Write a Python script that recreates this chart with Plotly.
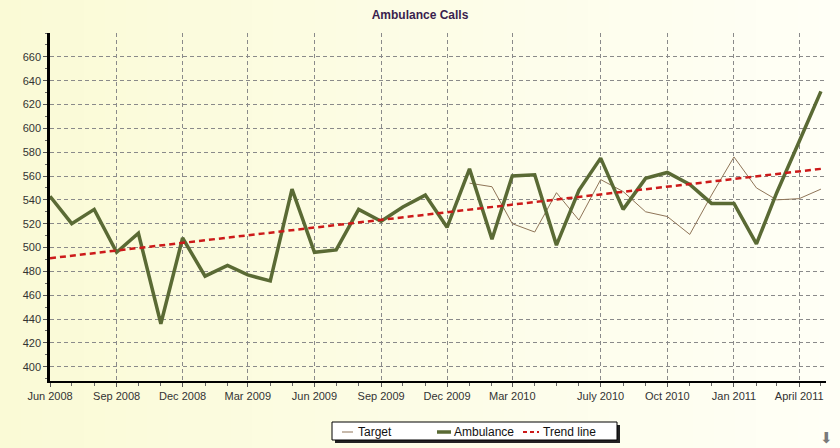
import plotly.graph_objects as go
import pandas as pd

# ---------------- data ----------------
months = [d.strftime("%Y-%m-%d") for d in pd.date_range("2008-06-01", "2011-05-01", freq="MS")]
ambulance = [543, 520, 532, 496, 512, 436, 508, 476, 485, 477, 472, 549,
             496, 498, 532, 522, 534, 544, 517, 566, 507, 560, 561, 502,
             548, 575, 532, 558, 563, 553, 537, 537, 503, 546, 589, 631]
target_months = months[19:]
target = [554, 551, 520, 513, 546, 523, 557, 547, 530, 526, 511, 544,
          576, 550, 540, 541, 549]
trend_months = [months[0], months[-1]]
trend = [491, 566]

tick_dates = ["2008-06-01", "2008-09-01", "2008-12-01", "2009-03-01", "2009-06-01",
              "2009-09-01", "2009-12-01", "2010-03-01", "2010-07-01", "2010-10-01",
              "2011-01-01", "2011-04-01"]
tick_labels = ["Jun 2008", "Sep 2008", "Dec 2008", "Mar 2009", "Jun 2009", "Sep 2009",
               "Dec 2009", "Mar 2010", "July 2010", "Oct 2010", "Jan 2011", "April 2011"]
y_ticks = list(range(400, 661, 20))

# ---------------- style ----------------
W, H = 840, 448
ML, MR, MT, MB = 50, 14, 33, 67
PW, PH = W - ML - MR, H - MT - MB
FONT = "Arial, Liberation Sans, sans-serif"
C_AMB = "#5a6a34"
C_TGT = "#8f7558"
C_TRD = "#cc1a1a"


def px(x):
    return (x - ML) / PW


def py(y):
    return (H - MB - y) / PH


fig = go.Figure()
fig.add_trace(go.Scatter(x=target_months, y=target, mode="lines", name="Target",
                         line=dict(color=C_TGT, width=1), showlegend=False))
fig.add_trace(go.Scatter(x=months, y=ambulance, mode="lines", name="Ambulance",
                         line=dict(color=C_AMB, width=3.5), showlegend=False))
fig.add_trace(go.Scatter(x=trend_months, y=trend, mode="lines", name="Trend line",
                         line=dict(color=C_TRD, width=2.5, dash="6px,4px"), showlegend=False))

shapes = []
# background gradient
N = 40
c0 = (250, 250, 214)
c1 = (255, 255, 246)
for i in range(N):
    t = i / (N - 1)
    col = tuple(round(c0[k] + (c1[k] - c0[k]) * t) for k in range(3))
    x0 = i * W / N
    x1 = (i + 1) * W / N + 1
    shapes.append(dict(type="rect", xref="paper", yref="paper", x0=px(x0), x1=px(x1),
                       y0=py(H + 2), y1=py(-2), fillcolor="rgb(%d,%d,%d)" % col,
                       line=dict(width=0), layer="below"))

# manual legend
shapes.append(dict(type="rect", xref="paper", yref="paper", x0=px(335), x1=px(620),
                   y0=py(443), y1=py(425), fillcolor="#222222", line=dict(width=0)))
shapes.append(dict(type="rect", xref="paper", yref="paper", x0=px(332), x1=px(617),
                   y0=py(440), y1=py(422), fillcolor="white",
                   line=dict(color="black", width=1)))
ly = 432
shapes.append(dict(type="line", xref="paper", yref="paper", x0=px(342), x1=px(353),
                   y0=py(ly), y1=py(ly), line=dict(color=C_TGT, width=1)))
shapes.append(dict(type="line", xref="paper", yref="paper", x0=px(437), x1=px(451),
                   y0=py(ly), y1=py(ly), line=dict(color=C_AMB, width=3.5)))
shapes.append(dict(type="line", xref="paper", yref="paper", x0=px(523), x1=px(539),
                   y0=py(ly), y1=py(ly), line=dict(color=C_TRD, width=2, dash="4px,3px")))

annotations = [
    dict(text="Target", x=px(356), y=py(ly), xref="paper", yref="paper", xanchor="left",
         yanchor="middle", showarrow=False, font=dict(family=FONT, size=12, color="#111")),
    dict(text="Ambulance", x=px(452), y=py(ly), xref="paper", yref="paper", xanchor="left",
         yanchor="middle", showarrow=False, font=dict(family=FONT, size=12, color="#111")),
    dict(text="Trend line", x=px(541), y=py(ly), xref="paper", yref="paper", xanchor="left",
         yanchor="middle", showarrow=False, font=dict(family=FONT, size=12, color="#111")),
    dict(text="⬇", x=px(826), y=py(438), xref="paper", yref="paper", xanchor="center",
         yanchor="middle", showarrow=False,
         font=dict(family="DejaVu Sans", size=15, color="#7a7a7a")),
]

fig.update_layout(
    width=W, height=H,
    margin=dict(l=ML, r=MR, t=MT, b=MB),
    paper_bgcolor="rgba(0,0,0,0)",
    plot_bgcolor="rgba(0,0,0,0)",
    title=dict(text="<b>Ambulance Calls</b>", x=0.5, xanchor="center", y=1 - 15 / H,
               yanchor="middle", font=dict(family=FONT, size=12, color="#3a1f4e")),
    font=dict(family=FONT, size=11, color="#333333"),
    showlegend=False,
    shapes=shapes,
    annotations=annotations,
)
fig.update_xaxes(
    type="date", range=["2008-06-01", "2011-05-08"],
    tickmode="array", tickvals=tick_dates, ticktext=tick_labels,
    showline=True, linecolor="black", linewidth=2,
    ticks="outside", ticklen=4, tickcolor="#555555",
    showgrid=True, gridcolor="#8a8a8a", gridwidth=1, griddash="4px,3px",
    minor=dict(dtick="M1", tick0="2008-06-01", ticks="outside", ticklen=3,
               tickcolor="#666666", showgrid=False),
    zeroline=False, tickfont=dict(family=FONT, size=11, color="#333333"),
)
fig.update_yaxes(
    range=[388, 680], tickmode="array", tickvals=y_ticks,
    showline=True, linecolor="black", linewidth=2.5,
    ticks="outside", ticklen=4, tickcolor="#555555",
    showgrid=True, gridcolor="#8a8a8a", gridwidth=1, griddash="4px,3px",
    minor=dict(dtick=10, tick0=400, ticks="outside", ticklen=2, tickcolor="#666666",
               showgrid=False),
    zeroline=False, tickfont=dict(family=FONT, size=11, color="#333333"),
)

fig.write_html("out.html", config={"displayModeBar": False},
               post_script="document.body.style.margin='0';document.body.style.padding='0';")
